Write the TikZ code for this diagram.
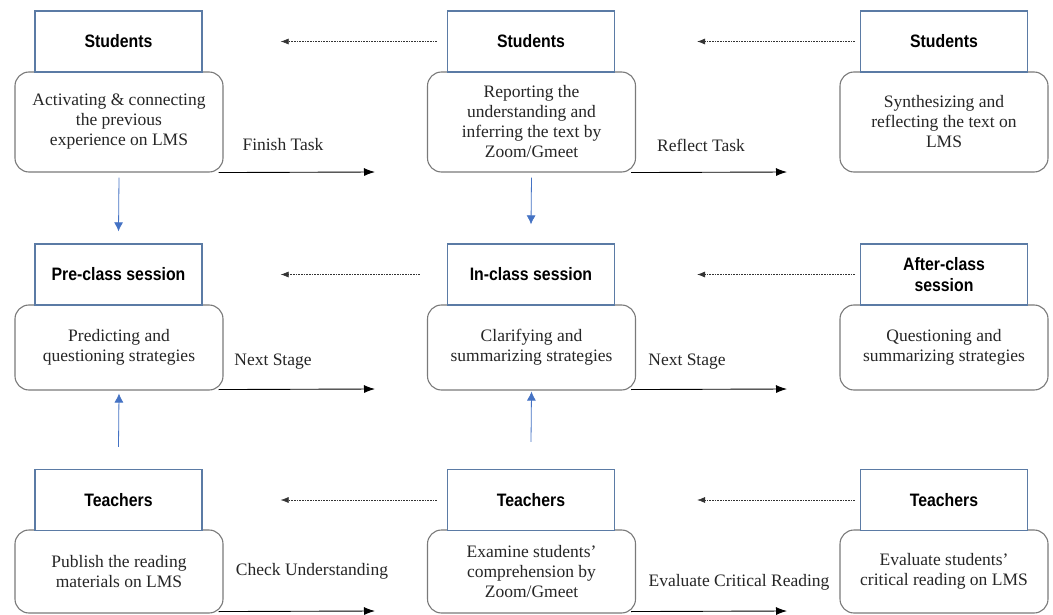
\documentclass[tikz,border=0pt]{standalone}
\usepackage{fontspec}
\setmainfont{Liberation Serif}
\newfontfamily\headfont[FakeStretch=0.88]{Liberation Sans}
\usetikzlibrary{arrows.meta}
\usetikzlibrary{shapes}

\definecolor{headblue}{HTML}{5B7BA5}
\definecolor{arrowblue}{HTML}{4472C4}
\definecolor{boxgray}{HTML}{7A7A7A}

\begin{document}
\begin{tikzpicture}[x=1pt,y=-1pt,>={Latex[length=11pt,width=8pt]},
					every node/.style = {align=center}]

\tikzstyle{head_box}=[rectangle, draw=headblue, line width=1.3pt, fill=white, minimum width=167pt, minimum height=61pt, font=\headfont\bfseries\fontsize{18}{21}\selectfont]
\tikzstyle{task_box}=[rectangle, rounded corners=14pt, draw=boxgray, line width=1.1pt, minimum width=208pt, text=black!85, font=\fontsize{17.5}{20}\selectfont]
\tikzstyle{dot_arrow}=[-{Latex[length=8pt,width=6pt]}, densely dotted, line width=0.6pt, draw=black!80]
\tikzstyle{flow_arrow}=[->, line width=0.9pt]
\tikzstyle{link_arrow}=[-{Latex[length=9pt,width=9pt]}, draw=arrowblue, line width=0.8pt]
\tikzstyle{arrow_label}=[text=black!85, font=\fontsize{17.5}{20}\selectfont]

\useasboundingbox[fill=white] (0,0) rectangle (1053,615);

% students row
\node[task_box, minimum height=100pt] (st_pre) at (119,122) {Activating \& connecting\\the previous\\experience on LMS};
\node[head_box] (st_pre_h) at (118.5,41.5) {Students};
\node[task_box, minimum height=100pt] (st_in) at (531.5,122) {Reporting the\\understanding and\\inferring the text by\\Zoom/Gmeet};
\node[head_box] (st_in_h) at (531,41.5) {Students};
\node[task_box, minimum height=100pt] (st_after) at (944,122) {Synthesizing and\\reflecting the text on\\LMS};
\node[head_box] (st_after_h) at (944,41.5) {Students};

% session row
\node[task_box, minimum height=85pt] (se_pre) at (119,347.5) {Predicting and\\questioning strategies};
\node[head_box] (se_pre_h) at (118.5,274.5) {Pre-class session};
\node[task_box, minimum height=85pt] (se_in) at (531.5,347.5) {Clarifying and\\summarizing strategies};
\node[head_box] (se_in_h) at (531,274.5) {In-class session};
\node[task_box, minimum height=85pt] (se_after) at (944,347.5) {Questioning and\\summarizing strategies};
\node[head_box] (se_after_h) at (944,274.5) {After-class\\session};

% teachers row
\node[task_box, minimum height=83pt] (te_pre) at (119,571.5) {Publish the reading\\materials on LMS};
\node[head_box] (te_pre_h) at (118.5,500) {Teachers};
\node[task_box, minimum height=83pt] (te_in) at (531.5,571.5) {Examine students'\\comprehension by\\Zoom/Gmeet};
\node[head_box] (te_in_h) at (531,500) {Teachers};
\node[task_box, minimum height=83pt] (te_after) at (944,571.5) {Evaluate students'\\critical reading on LMS};
\node[head_box] (te_after_h) at (944,500) {Teachers};

% backward dotted arrows
\draw[dot_arrow] ([xshift=-10pt]st_in_h.west) -- ([xshift=78pt]st_pre_h.east);
\draw[dot_arrow] ([xshift=-5pt]st_after_h.west) -- ([xshift=82pt]st_in_h.east);
\draw[dot_arrow] ([xshift=-27pt]se_in_h.west) -- ([xshift=78pt]se_pre_h.east);
\draw[dot_arrow] ([xshift=-5pt]se_after_h.west) -- ([xshift=82pt]se_in_h.east);
\draw[dot_arrow] ([xshift=-10pt]te_in_h.west) -- ([xshift=78pt]te_pre_h.east);
\draw[dot_arrow] ([xshift=-5pt]te_after_h.west) -- ([xshift=82pt]te_in_h.east);

% forward arrows
\coordinate (finish_end) at (375,172);
\coordinate (reflect_end) at (787,172);
\coordinate (next_a_end) at (375,389);
\coordinate (next_b_end) at (787,389);
\coordinate (check_end) at (375,611);
\coordinate (eval_end) at (787,611);
\draw[flow_arrow] ([xshift=-5pt]st_pre.south east) -- (finish_end);
\draw[flow_arrow] ([xshift=-5pt]st_in.south east) -- (reflect_end);
\draw[flow_arrow] ([xshift=-5pt,yshift=1pt]se_pre.south east) -- (next_a_end);
\draw[flow_arrow] ([xshift=-5pt,yshift=1pt]se_in.south east) -- (next_b_end);
\draw[flow_arrow] ([xshift=-5pt,yshift=2pt]te_pre.south east) -- (check_end);
\draw[flow_arrow] ([xshift=-5pt,yshift=2pt]te_in.south east) -- (eval_end);

\node[arrow_label] (lbl_finish) at (283,145) {Finish Task};
\node[arrow_label] (lbl_reflect) at (701,145) {Reflect Task};
\node[arrow_label] (lbl_next_a) at (273,362) {Next Stage};
\node[arrow_label] (lbl_next_b) at (687,362) {Next Stage};
\node[arrow_label] (lbl_check) at (312,571) {Check Understanding};
\node[arrow_label] (lbl_eval) at (739,582) {Evaluate Critical Reading};

% blue links between rows
\draw[link_arrow] ([yshift=-5pt]st_pre.south) -- ([yshift=12pt]se_pre_h.north);
\draw[link_arrow] ([yshift=-5pt]st_in.south) -- ([yshift=19pt]se_in_h.north);
\draw[link_arrow] ([yshift=22pt]te_pre_h.north) -- ([yshift=-3pt]se_pre.south);
\draw[link_arrow] ([yshift=27pt]te_in_h.north) -- ([yshift=-1pt]se_in.south);
\end{tikzpicture}
\end{document}
